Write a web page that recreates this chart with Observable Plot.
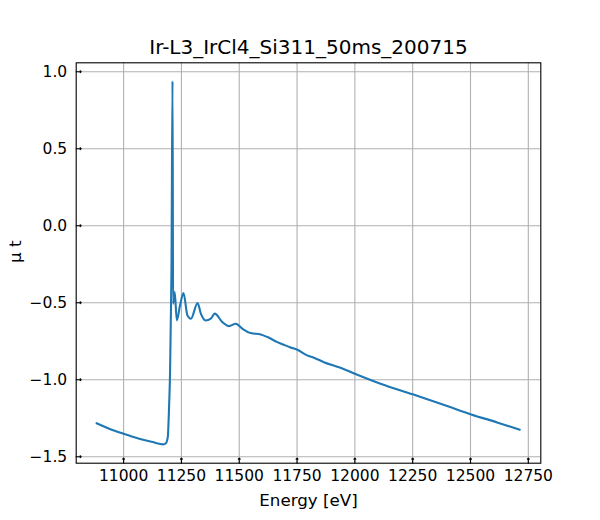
<!DOCTYPE html>
<html>
<head>
<meta charset="utf-8">
<script src="https://cdn.jsdelivr.net/npm/d3@7"></script>
<script src="https://cdn.jsdelivr.net/npm/@observablehq/plot@0.6"></script>
<style>
  html, body { margin: 0; padding: 0; background: white; }
  svg, svg text { font-family: "DejaVu Sans", sans-serif !important; }
</style>
</head>
<body>
<div id="chart"></div>
<script>
const title = "Ir-L3_IrCl4_Si311_50ms_200715";
const xLabel = "Energy [eV]";
const yLabel = "μ t";

const energy = [10883, 10938, 11000, 11067, 11125, 11171, 11183, 11191, 11197, 11201, 11204, 11207, 11211.5, 11214, 11221, 11230, 11244, 11259, 11276, 11291, 11320, 11334, 11355, 11377, 11394, 11427, 11456, 11485, 11514, 11550, 11593, 11622, 11665, 11722, 11751, 11794, 11823, 11866, 11938, 12000, 12111, 12250, 12399, 12503, 12615, 12713];
const mu = [-1.282, -1.318, -1.351, -1.383, -1.405, -1.420, -1.412, -1.373, -1.156, -0.940, -0.615, -0.290, 0.940, -0.507, -0.431, -0.615, -0.517, -0.437, -0.582, -0.604, -0.502, -0.571, -0.615, -0.604, -0.571, -0.626, -0.652, -0.636, -0.669, -0.697, -0.706, -0.723, -0.756, -0.790, -0.805, -0.842, -0.857, -0.886, -0.922, -0.961, -1.026, -1.095, -1.171, -1.225, -1.277, -1.325];

const xTicks = [11000, 11250, 11500, 11750, 12000, 12250, 12500, 12750];
const xTickLabels = ["11000", "11250", "11500", "11750", "12000", "12250", "12500", "12750"];
const yTicks = [-1.5, -1.0, -0.5, 0.0, 0.5, 1.0];
const yTickLabels = ["−1.5", "−1.0", "−0.5", "0.0", "0.5", "1.0"];

const data = energy.map((e, i) => ({e, v: mu[i]}));

const chart = Plot.plot({
  width: 600,
  height: 520,
  marginLeft: 75.7,
  marginRight: 59.7,
  marginTop: 62.3,
  marginBottom: 57.3,
  style: {fontFamily: "'DejaVu Sans', sans-serif", fontSize: "15.5px", background: "white", color: "black", overflow: "visible"},
  x: {domain: [10795, 12804]},
  y: {domain: [-1.542, 1.058]},
  marks: [
    Plot.gridX(xTicks, {stroke: "#b0b0b0", strokeOpacity: 1, strokeWidth: 1.1}),
    Plot.gridY(yTicks, {stroke: "#b0b0b0", strokeOpacity: 1, strokeWidth: 1.1}),
    Plot.line(data, {x: "e", y: "v", stroke: "#1f77b4", strokeWidth: 2.1, curve: "monotone-x"}),
    Plot.frame({stroke: "black", strokeWidth: 1.1}),
    Plot.vector(xTicks, {x: d => d, frameAnchor: "bottom", length: 5, rotate: 0, anchor: "start", stroke: "black", strokeWidth: 1.1}),
    Plot.vector(yTicks, {y: d => d, frameAnchor: "left", length: 5, rotate: 90, anchor: "start", stroke: "black", strokeWidth: 1.1}),
    Plot.axisX(xTicks, {tickSize: 0, tickPadding: 7, label: null, fontSize: 15.5, fill: "black",
      tickFormat: d => xTickLabels[xTicks.indexOf(d)]}),
    Plot.axisY(yTicks, {tickSize: 0, tickPadding: 9, label: null, fontSize: 15.5, fill: "black",
      tickFormat: d => yTickLabels[yTicks.indexOf(d)]}),
    Plot.text([title], {text: d => d, frameAnchor: "top", dy: -15.4, fontSize: 20, fill: "black", lineAnchor: "middle"}),
    Plot.text([xLabel], {text: d => d, frameAnchor: "bottom", dy: 37, fontSize: 16.7, fill: "black", lineAnchor: "middle"}),
    Plot.text([yLabel], {text: d => d, frameAnchor: "left", dx: -61, rotate: -90, fontSize: 16.7, fill: "black", lineAnchor: "middle"})
  ]
});
document.getElementById("chart").appendChild(chart);
</script>
</body>
</html>
